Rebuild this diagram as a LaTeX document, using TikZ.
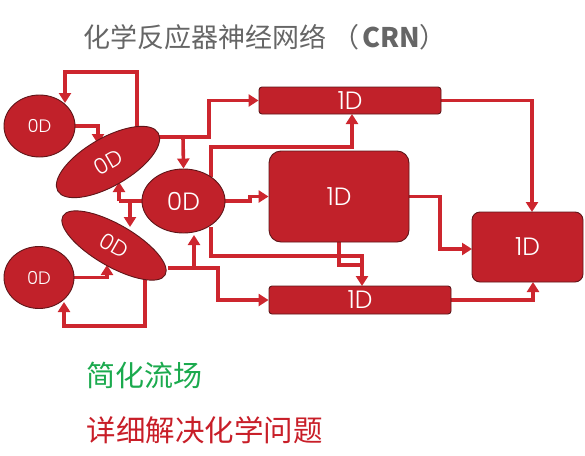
\documentclass[tikz,border=0pt]{standalone}
\usepackage{fontspec}
\newfontfamily\cjk{Noto Sans CJK SC}
\newfontfamily\lbl{Poppins Light}
\usetikzlibrary{shapes.geometric,arrows.meta}
\pgfdeclarelayer{back}
\pgfsetlayers{back,main}
\definecolor{crnred}{RGB}{193,33,42}
\definecolor{crnedge}{RGB}{95,22,25}
\definecolor{crnline}{RGB}{205,38,46}
\definecolor{crngreen}{RGB}{27,170,78}
\definecolor{crngray}{RGB}{102,102,102}
\definecolor{crntext}{RGB}{200,30,40}

\begin{document}
\begin{tikzpicture}[x=1pt,y=-1pt,
	zerod/.style={ellipse,fill=crnred,draw=crnedge,line width=0.9pt,inner sep=0pt,text=white,font=\lbl\fontsize{18}{18}\selectfont},
	oned/.style={rectangle,fill=crnred,draw=crnedge,line width=0.9pt,inner sep=0pt,text=white,font=\lbl\fontsize{25}{25}\selectfont},
	link/.style={crnline,line width=3.6pt,-{Triangle[length=10pt,width=12pt]}},
	plain/.style={crnline,line width=3.6pt}]
	\useasboundingbox (0,0) rectangle (585,455);

	\node[anchor=west,inner sep=0pt,font=\cjk\fontsize{27}{27}\selectfont,text=crngray] (title) at (83,37) {化学反应器神经网络\hspace{6pt}（\hspace{3pt}\textbf{CRN}）};

	\node[zerod,minimum width=71pt,minimum height=62pt] (tl) at (39.5,126) {0D};
	\node[zerod,minimum width=116pt,minimum height=48pt,rotate=30,font=\lbl\fontsize{22}{22}\selectfont] (tt) at (108,162) {0D};
	\node[zerod,minimum width=83pt,minimum height=64pt,font=\lbl\fontsize{25}{25}\selectfont] (mid) at (183.5,201) {0D};
	\node[zerod,minimum width=118pt,minimum height=42pt,rotate=-30,font=\lbl\fontsize{22}{22}\selectfont] (bt) at (114,245.5) {0D};
	\node[zerod,minimum width=70pt,minimum height=62pt] (bl) at (39,277.5) {0D};

	\node[oned,rounded corners=3pt,minimum width=182pt,minimum height=27pt] (bar1) at (350,100.5) {1D};
	\node[oned,rounded corners=12pt,minimum width=140pt,minimum height=91pt] (big) at (339,196.5) {1D};
	\node[oned,rounded corners=3pt,minimum width=182pt,minimum height=28pt] (bar2) at (360,300) {1D};
	\node[oned,rounded corners=8pt,minimum width=111pt,minimum height=70pt] (out) at (527.5,247) {1D};

	\begin{pgfonlayer}{back}
		\draw[link] (137,128) |- (65,72) -- (65,103);
		\draw[link] (tl.east) -| (98,144);
		\draw[link] (159,137) -| (209,100.5) -- (bar1.west);
		\draw[link] (183,137) -- (mid.north);
		\draw[plain] (mid.west) -- (119,201);
		\draw[link] (119,201) -- (119,182);
		\draw[link] (130,201) -- (130,227);
		\draw[link] (mid.east) -- (250,201) |- (big.west);
		\draw[link] (211,177) |- (352,147) -- (352,114);
		\draw[link] (211,227) |- (362,256) -- (362,286);
		\draw[plain] (big.south) |- (362,265);
		\draw[link] (big.east) -| (440,249) -- (472,249);
		\draw[link] (bar1.east) -| (532,212);
		\draw[link] (bar2.east) -| (533,282);
		\draw[link] (168,268) -| (218,300) -- (bar2.west);
		\draw[link] (194,268) -- (194,235);
		\draw[link] (bl.east) -| (107,265);
		\draw[link] (145,277) |- (64,326) -- (64,302);
	\end{pgfonlayer}

	\node[anchor=west,font=\cjk\fontsize{29}{29}\selectfont,text=crngreen] (simple) at (83,375) {简化流场};
	\node[anchor=west,font=\cjk\fontsize{29.5}{29.5}\selectfont,text=crntext] (detail) at (83,430) {详细解决化学问题};
\end{tikzpicture}
\end{document}
